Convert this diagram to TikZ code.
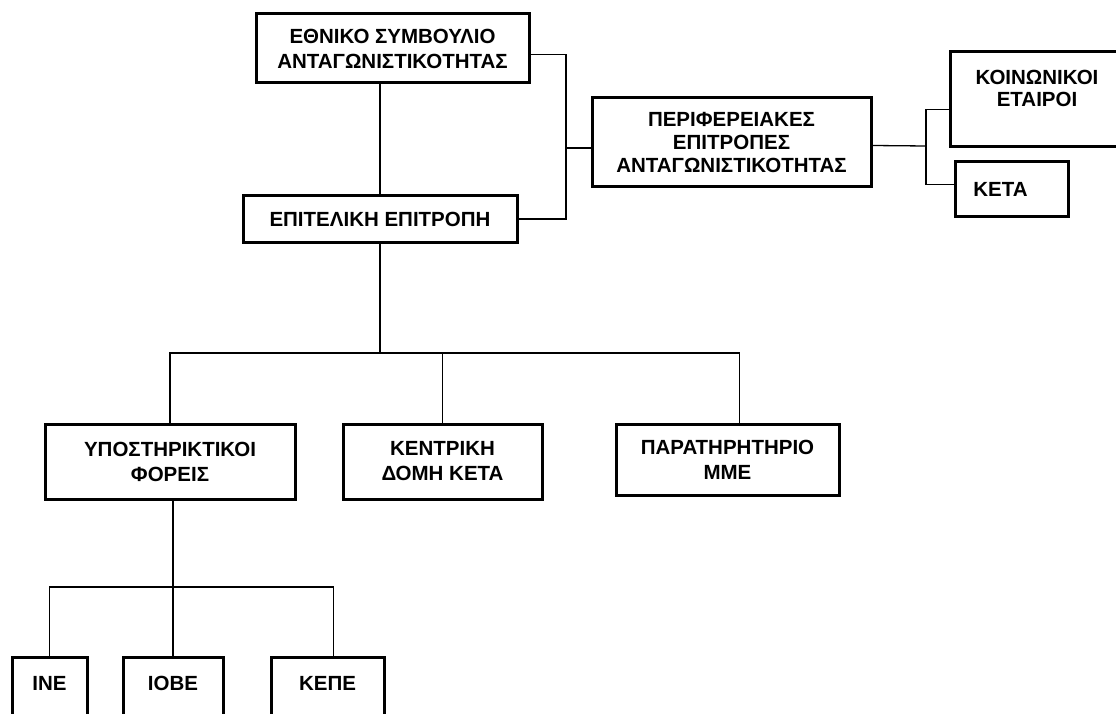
\documentclass[tikz,border=0pt]{standalone}
\usepackage{fontspec}
\setmainfont[BoldFont={Liberation Sans Bold}]{Liberation Sans}
\usetikzlibrary{positioning,calc}

\tikzset{
  box/.style={draw, line width=3pt, align=center, inner sep=2pt,
    font=\bfseries\fontsize{20.5}{25}\selectfont},
  leafbox/.style={box, minimum height=84pt, text depth=32pt},
  link/.style={line width=1.3pt}
}

\begin{document}
\begin{tikzpicture}[x=1pt,y=-1pt]
  \useasboundingbox (0,0) rectangle (1116,714);
  \clip (0,0) rectangle (1116,714);

  % Top level
  \node[box, minimum width=273pt, minimum height=69pt] (esa) at (392.5,48.5)
    {ΕΘΝΙΚΟ ΣΥΜΒΟΥΛΙΟ\\ΑΝΤΑΓΩΝΙΣΤΙΚΟΤΗΤΑΣ};
  \node[box, minimum width=274pt, minimum height=46pt] (epit) at (380,219)
    {ΕΠΙΤΕΛΙΚΗ ΕΠΙΤΡΟΠΗ};

  % Regional committees
  \node[box, minimum width=279pt, minimum height=89pt,
    font=\bfseries\fontsize{20.5}{23}\selectfont] (perif) at (731.5,142.5)
    {ΠΕΡΙΦΕΡΕΙΑΚΕΣ\\ΕΠΙΤΡΟΠΕΣ\\ΑΝΤΑΓΩΝΙΣΤΙΚΟΤΗΤΑΣ};
  \node[box, minimum width=174pt, minimum height=95pt,
    font=\bfseries\fontsize{20.5}{22}\selectfont] (koin) at (1037,99.5)
    {ΚΟΙΝΩΝΙΚΟΙ\\ΕΤΑΙΡΟΙ\\\mbox{}};
  \node[box, minimum width=113pt, minimum height=55pt] (keta) at (1011.5,189.5)
    {ΚΕΤΑ\hspace{22pt}};

  % Second level
  \node[box, minimum width=250pt, minimum height=75pt] (ypost) at (170,461.5)
    {ΥΠΟΣΤΗΡΙΚΤΙΚΟΙ\\ΦΟΡΕΙΣ};
  \node[box, minimum width=199pt, minimum height=75pt] (kentr) at (442.5,461.5)
    {ΚΕΝΤΡΙΚΗ\\ΔΟΜΗ ΚΕΤΑ};
  \node[box, minimum width=223pt, minimum height=71pt] (parat) at (727.5,459.5)
    {ΠΑΡΑΤΗΡΗΤΗΡΙΟ\\ΜΜΕ};

  % Supporting bodies
  \node[leafbox, minimum width=75pt] (ine) at (49.5,699) {ΙΝΕ};
  \node[leafbox, minimum width=100pt] (iobe) at (173,699) {ΙΟΒΕ};
  \node[leafbox, minimum width=113pt] (kepe) at (327.5,699) {ΚΕΠΕ};

  % Junctions
  \coordinate (j1) at (566,148);
  \coordinate (j2) at (926,146);
  \coordinate (j3) at (380,353);
  \coordinate (j4) at (173,587);

  % Connectors
  \draw[link] (epit.north) -- (epit.north |- esa.south);
  \draw[link] ([yshift=-6pt]esa.east) -- ([yshift=-6pt]esa.east -| j1)
    -- (epit.east -| j1) -- (epit.east);
  \draw[link] (j1) -- (j1 -| perif.west);
  \draw[link] ([yshift=-3pt]perif.east) -- (j2);
  \draw[link] ([yshift=-10pt]koin.west) -- ([yshift=-10pt]koin.west -| j2)
    |- ([yshift=5pt]keta.west);
  \draw[link] (epit.south) -- (j3);
  \draw[link] (ypost.north) |- (j3) -| ([xshift=12pt]parat.north);
  \draw[link] (kentr.north) -- (kentr.north |- j3);
  \draw[link] (iobe.north) -- (iobe.north |- ypost.south);
  \draw[link] (ine.north) |- (j4) -| ([xshift=6pt]kepe.north);
\end{tikzpicture}
\end{document}
